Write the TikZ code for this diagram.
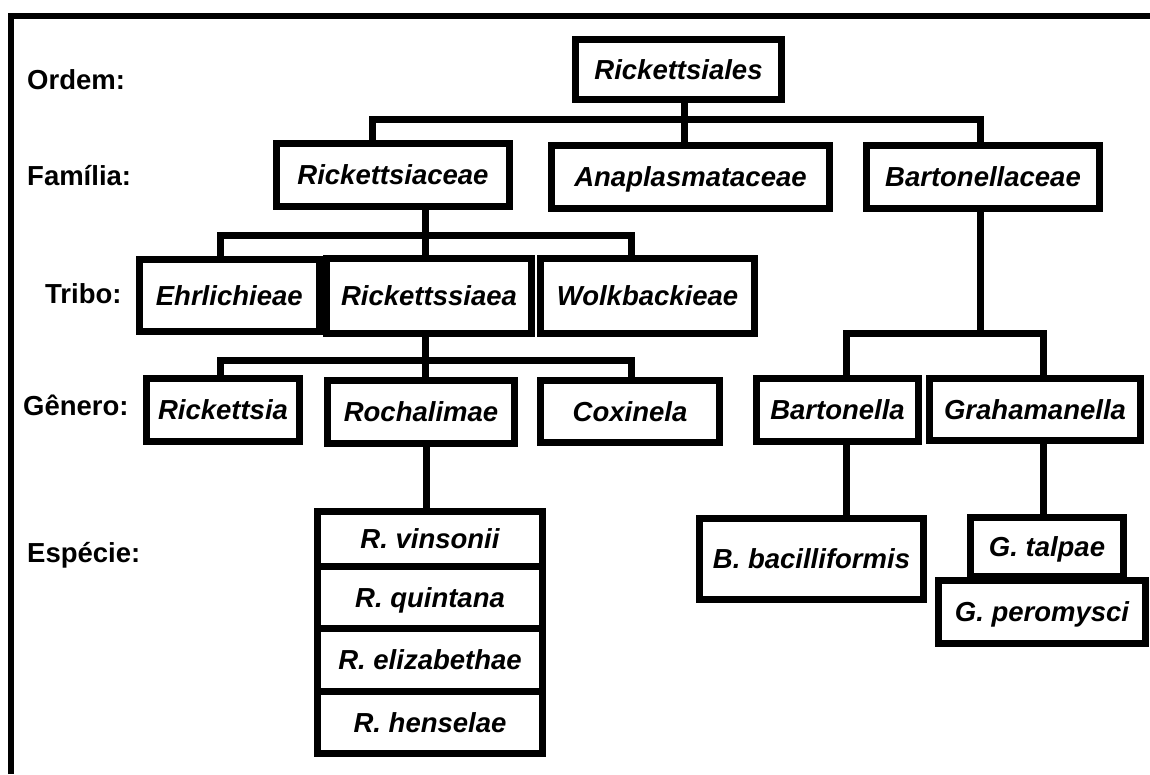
\documentclass[tikz,border=0pt]{standalone}
\usepackage{fontspec}
\setmainfont{Liberation Sans}
\begin{document}
\begin{tikzpicture}[x=1pt,y=-1pt,
  box/.style={draw, line width=7pt, fill=white, inner sep=0pt,
    font=\bfseries\itshape\fontsize{27.5}{33}\selectfont,
    text height=19.7pt, text depth=0pt},
  conn/.style={line width=7pt, line join=miter},
  frameline/.style={line width=6pt, line join=miter},
  lbl/.style={inner sep=0pt, anchor=base west, font=\bfseries\fontsize{27.5}{33}\selectfont}]
\useasboundingbox (0,0) rectangle (1150,774);
% frame
\draw[frameline] (11,774) -- (11,16) -- (1150,16);
% level labels
\node[lbl] (lord) at (27,89) {Ordem:};
\node[lbl] (lfam) at (27,185) {Família:};
\node[lbl] (ltri) at (45,303) {Tribo:};
\node[lbl] (lgen) at (23,415) {Gênero:};
\node[lbl] (lesp) at (27,562) {Espécie:};
% boxes
\node[box, minimum width=206pt, minimum height=60pt] (ord) at (678.5,69.5) {Rickettsiales};
\node[box, minimum width=233pt, minimum height=63pt] (rkc) at (393,175) {Rickettsiaceae};
\node[box, minimum width=278pt, minimum height=63pt] (ana) at (690.5,177) {Anaplasmataceae};
\node[box, minimum width=233pt, minimum height=63pt] (btc) at (983,177) {Bartonellaceae};
\node[box, minimum width=179.5pt, minimum height=72pt] (ehr) at (229.25,295.5) {Ehrlichieae};
\node[box, minimum width=205pt, minimum height=75pt] (rks) at (429,296) {Rickettssiaea};
\node[box, minimum width=214pt, minimum height=75pt] (wol) at (647.5,296) {Wolkbackieae};
\node[box, minimum width=153pt, minimum height=63pt] (ric) at (223,410) {Rickettsia};
\node[box, minimum width=187pt, minimum height=63pt] (roc) at (421,412) {Rochalimae};
\node[box, minimum width=179pt, minimum height=62pt] (cox) at (630,411.5) {Coxinela};
\node[box, minimum width=162pt, minimum height=63pt] (bar) at (837.5,410) {Bartonella};
\node[box, minimum width=211pt, minimum height=62pt] (gra) at (1035,409.5) {Grahamanella};
% species
\node[box, minimum width=225pt, minimum height=54.5pt] (sp1) at (430,538.75) {R. vinsonii};
\node[box, minimum width=225pt, minimum height=62.5pt] (sp2) at (430,597.25) {R. quintana};
\node[box, minimum width=225pt, minimum height=62.5pt] (sp3) at (430,659.75) {R. elizabethae};
\node[box, minimum width=225pt, minimum height=62.5pt] (sp4) at (430,722.25) {R. henselae};
\node[box, minimum width=224pt, minimum height=81pt] (bba) at (811.5,559) {B. bacilliformis};
\node[box, minimum width=153pt, minimum height=59pt] (gta) at (1047,547) {G. talpae};
\node[box, minimum width=207pt, minimum height=63pt] (gpe) at (1042,612) {G. peromysci};
% junction coordinates
\coordinate (j1l) at (372,119);
\coordinate (j1m) at (684,119);
\coordinate (j1r) at (980,119);
\coordinate (j2l) at (220,235);
\coordinate (j2m) at (425,235);
\coordinate (j2r) at (631,235);
\coordinate (j3l) at (220,360);
\coordinate (j3m) at (425,360);
\coordinate (j3r) at (631,360);
\coordinate (j4) at (426,480);
\coordinate (j5l) at (846,333);
\coordinate (j5m) at (980,333);
\coordinate (j5r) at (1043,333);
% connectors
\draw[conn] (ord.south -| j1m) -- (ana.north -| j1m);
\draw[conn] (rkc.north -| j1l) |- (j1r) -- (btc.north -| j1r);
\draw[conn] (rkc.south -| j2m) -- (rks.north -| j2m);
\draw[conn] (ehr.north -| j2l) |- (j2r) -- (wol.north -| j2r);
\draw[conn] (rks.south -| j3m) -- (roc.north -| j3m);
\draw[conn] (ric.north -| j3l) |- (j3r) -- (cox.north -| j3r);
\draw[conn] (roc.south -| j4) -- (sp1.north -| j4);
\draw[conn] (btc.south -| j5m) -- (j5m);
\draw[conn] (bar.north -| j5l) |- (j5r) -- (gra.north -| j5r);
\draw[conn] (bar.south -| j5l) -- (bba.north -| j5l);
\draw[conn] (gra.south -| j5r) -- (gta.north -| j5r);
\end{tikzpicture}
\end{document}
